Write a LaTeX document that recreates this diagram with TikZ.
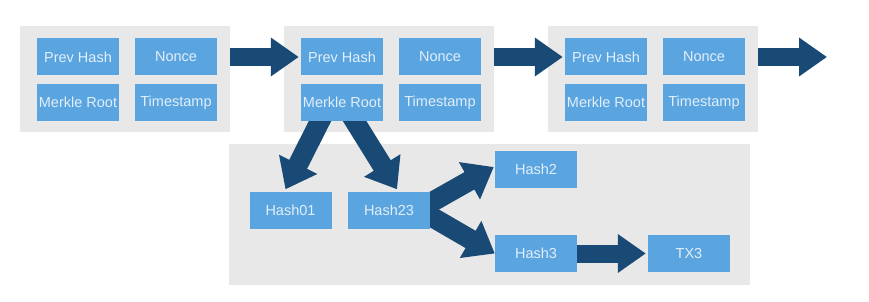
\documentclass[tikz,border=0pt]{standalone}
\usepackage{fontspec}
\setmainfont{Liberation Sans}
\usetikzlibrary{arrows.meta,calc}
\definecolor{boxblue}{RGB}{90,165,224}
\definecolor{graybg}{RGB}{232,232,232}
\definecolor{arrowblue}{RGB}{24,74,117}
\definecolor{txtcol}{RGB}{226,238,250}
\pgfdeclarelayer{back}
\pgfdeclarelayer{mid}
\pgfsetlayers{back,mid,main}
\begin{document}
\begin{tikzpicture}[x=1pt,y=-1pt,
  field/.style={fill=boxblue,text=txtcol,minimum width=82pt,minimum height=37pt,
    inner sep=0pt,font=\fontsize{14.5}{16}\selectfont},
  panel/.style={fill=graybg,inner sep=0pt},
  fat/.style={draw=arrowblue,line width=18pt,-{Triangle[length=28pt,width=37pt]}},
  fatter/.style={draw=arrowblue,line width=20pt,-{Triangle[length=28pt,width=41pt]}}]
\useasboundingbox (0,0) rectangle (869,302);
\begin{pgfonlayer}{back}
\node[panel,minimum width=210pt,minimum height=106pt] (g1) at (125,79) {};
\node[panel,minimum width=210pt,minimum height=106pt] (g2) at (389,79) {};
\node[panel,minimum width=210pt,minimum height=106pt] (g3) at (653,79) {};
\node[panel,minimum width=521pt,minimum height=141pt] (g4) at (489.5,214.5) {};
\end{pgfonlayer}
% block 1
\node[field] (p1) at (78,57) {Prev Hash};
\node[field] (n1) at (176,57) {Nonce};
\node[field] (m1) at (78,102.5) {Merkle Root};
\node[field] (t1) at (176,102.5) {Timestamp};
% block 2
\node[field] (p2) at (342,57) {Prev Hash};
\node[field] (n2) at (440,57) {Nonce};
\node[field] (m2) at (342,102.5) {Merkle Root};
\node[field] (t2) at (440,102.5) {Timestamp};
% block 3
\node[field] (p3) at (606,57) {Prev Hash};
\node[field] (n3) at (704,57) {Nonce};
\node[field] (m3) at (606,102.5) {Merkle Root};
\node[field] (t3) at (704,102.5) {Timestamp};
% merkle tree
\node[field] (h01) at (290.5,210) {Hash01};
\node[field] (h23) at (389,210) {Hash23};
\node[field] (h2) at (536,169.5) {Hash2};
\node[field] (h3) at (536,253.5) {Hash3};
\node[field] (tx3) at (689,253.5) {TX3};
\coordinate (chainend) at (827,57);
\begin{pgfonlayer}{mid}
\draw[fat,shorten >=2pt] (g1.east |- p2.west) -- (p2.west);
\draw[fat,shorten >=2pt] (g2.east |- p3.west) -- (p3.west);
\draw[fat] (g3.east |- chainend) -- (chainend);
\draw[fatter] ($(m2.south)+(-19,-6)$) -- ($(h01.north)+(-5,-2)$);
\draw[fatter] ($(m2.south)+(9,-6)$) -- ($(h23.north)+(8,-2)$);
\draw[fatter] ($(h23.east)+(-6,-3.6)$) -- ($(h2.west)+(-1,-2.5)$);
\draw[fatter] ($(h23.east)+(-6,2.5)$) -- (h3.west);
\draw[fat,shorten >=2pt] (h3.east) -- (tx3.west);
\end{pgfonlayer}
\end{tikzpicture}
\end{document}
